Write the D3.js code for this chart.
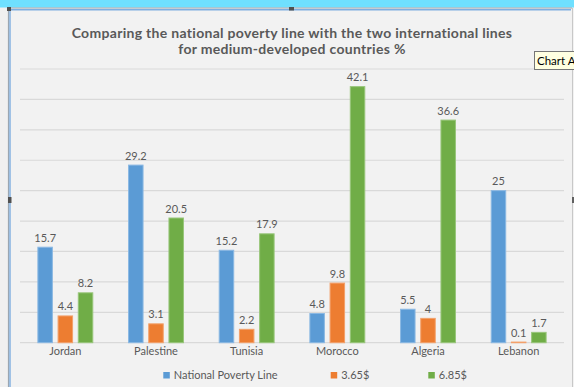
<!DOCTYPE html>
<html>
<head>
<meta charset="utf-8">
<script src="https://cdn.jsdelivr.net/npm/d3@7"></script>
<style>
  html, body { margin: 0; padding: 0; background: #f0f0f0; }
  svg { display: block; }
  text { font-family: Lato, "Open Sans", sans-serif; }
</style>
</head>
<body>
<svg id="chart" width="574" height="387"></svg>
<script>
// Chart data
const categories = ["Jordan", "Palestine", "Tunisia", "Morocco", "Algeria", "Lebanon"];
const seriesNames = ["National Poverty Line", "3.65$", "6.85$"];
const nationalLine = [15.7, 29.2, 15.2, 4.8, 5.5, 25];
const line365 = [4.4, 3.1, 2.2, 9.8, 4, 0.1];
const line685 = [8.2, 20.5, 17.9, 42.1, 36.6, 1.7];
const yTicks = [0, 5, 10, 15, 20, 25, 30, 35, 40, 45];
const titleLines = [
  "Comparing the national poverty line with the two international lines",
  "for medium-developed countries %"
];

const seriesValues = [nationalLine, line365, line685];
const colors = ["#5b9bd5", "#ed7d31", "#70ad47"];
const strokes = ["#8ab8e3", "#f3a06a", "#98c67a"];

const W = 574, H = 387;
const svg = d3.select("#chart");

// Window chrome around the chart object
svg.append("rect").attr("x", 0).attr("y", 0).attr("width", W).attr("height", H).attr("fill", "#f0f0f0");
svg.append("rect").attr("x", 8).attr("y", 8).attr("width", W - 8).attr("height", H - 8).attr("fill", "#f2f2f2");
svg.append("rect").attr("x", 0).attr("y", 0).attr("width", W).attr("height", 7.5).attr("fill", "#6fe0ff");
// selection frame
svg.append("line").attr("x1", 8).attr("x2", 572).attr("y1", 8).attr("y2", 8).attr("stroke", "#9aa6b2").attr("stroke-width", 1.2);
svg.append("line").attr("x1", 9).attr("x2", 571).attr("y1", 9.8).attr("y2", 9.8).attr("stroke", "#7eaee0").attr("stroke-width", 1.4);
svg.append("line").attr("x1", 8.5).attr("x2", 8.5).attr("y1", 8).attr("y2", H).attr("stroke", "#9aa6b2").attr("stroke-width", 1.2);
svg.append("line").attr("x1", 10).attr("x2", 10).attr("y1", 9).attr("y2", H).attr("stroke", "#7eaee0").attr("stroke-width", 1.4);
svg.append("line").attr("x1", 572.5).attr("x2", 572.5).attr("y1", 8).attr("y2", H).attr("stroke", "#c8c8c8").attr("stroke-width", 1);
// sizing handles
svg.append("rect").attr("x", 7).attr("y", 7).attr("width", 4).attr("height", 4).attr("fill", "#505050");
svg.append("rect").attr("x", 289).attr("y", 7).attr("width", 5).attr("height", 3.5).attr("fill", "#505050");
svg.append("rect").attr("x", 8).attr("y", 197).attr("width", 3.5).attr("height", 6).attr("fill", "#505050");
svg.append("rect").attr("x", 572).attr("y", 197).attr("width", 2.5).attr("height", 6).attr("fill", "#606060");

// Title, two centred lines
svg.append("g").selectAll("text").data(titleLines).join("text")
  .attr("x", 292)
  .attr("y", (d, i) => 37.6 + i * 16.8)
  .attr("text-anchor", "middle")
  .attr("fill", "#595959")
  .attr("font-weight", "bold")
  .attr("font-size", 14)
  .attr("letter-spacing", 0.3)
  .text(d => d);

// Scales
const x0 = d3.scaleBand().domain(categories).range([20, 564]).paddingInner(0).paddingOuter(0);
const x1 = d3.scaleBand().domain(d3.range(seriesNames.length)).range([-27.95, 27.95]).paddingInner(0.233).paddingOuter(0);
const y = d3.scaleLinear().domain([0, 45]).range([342.7, 69]);

// Gridlines
svg.append("g").selectAll("line").data(yTicks).join("line")
  .attr("x1", 20).attr("x2", 564)
  .attr("y1", d => y(d)).attr("y2", d => y(d))
  .attr("stroke", "#d9d9d9").attr("stroke-width", 1.2);

// Bars and value labels
const groups = svg.append("g").selectAll("g").data(categories).join("g")
  .attr("transform", d => `translate(${x0(d) + x0.bandwidth() / 2},0)`);

groups.each(function (cat, ci) {
  const g = d3.select(this);
  seriesValues.forEach((vals, si) => {
    const v = vals[ci];
    const bx = x1(si);
    g.append("rect")
      .attr("x", bx + 0.5)
      .attr("y", y(v))
      .attr("width", x1.bandwidth() - 1)
      .attr("height", Math.max(0, y(0) - y(v)))
      .attr("fill", colors[si])
      .attr("stroke", strokes[si])
      .attr("stroke-width", 1);
    g.append("text")
      .attr("x", bx + x1.bandwidth() / 2)
      .attr("y", y(v) - 5.5)
      .attr("text-anchor", "middle")
      .attr("font-size", 11)
      .attr("fill", "#595959")
      .text(v);
  });
});

// Category axis labels
const xAxis = d3.axisBottom(x0).tickSize(0).tickPadding(0);
const xg = svg.append("g").attr("transform", `translate(0,${y(0)})`).call(xAxis);
xg.select(".domain").remove();
xg.selectAll("text")
  .attr("dy", null)
  .attr("y", 12.5)
  .attr("font-size", 11)
  .attr("font-family", "Lato, 'Open Sans', sans-serif")
  .attr("fill", "#595959");

// Legend
const legendX = [163.3, 330.7, 428.3];
const legend = svg.append("g").selectAll("g").data(seriesNames).join("g")
  .attr("transform", (d, i) => `translate(${legendX[i]},372)`);
legend.append("rect").attr("width", 6.5).attr("height", 6.5).attr("fill", (d, i) => colors[i]);
legend.append("text").attr("x", 10.5).attr("y", 7).attr("font-size", 11).attr("fill", "#595959").text(d => d);

// Hover tooltip
svg.append("rect").attr("x", 534.5).attr("y", 51.5).attr("width", 45).attr("height", 18)
  .attr("fill", "#ffffe1").attr("stroke", "#767676");
svg.append("text").attr("x", 537).attr("y", 65).attr("font-size", 11.5)
  .attr("font-family", "'Noto Sans', 'DejaVu Sans', sans-serif").attr("fill", "#000").text("Chart A");
</script>
</body>
</html>
